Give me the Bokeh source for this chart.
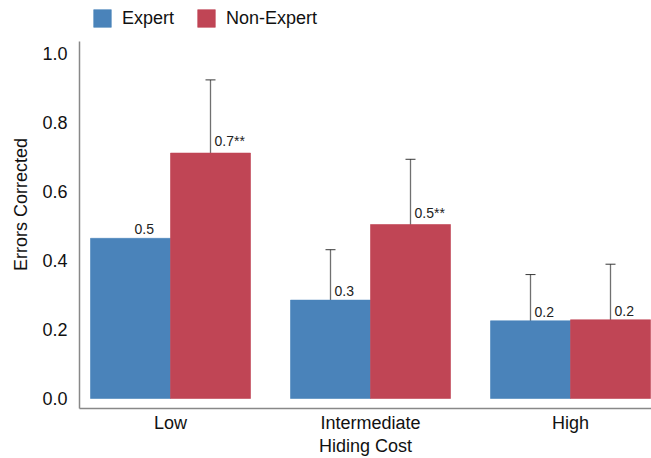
from bokeh.plotting import figure
from bokeh.models import ColumnDataSource, Range1d, FixedTicker, Whisker, Legend, LegendItem, LabelSet, PrintfTickFormatter
from bokeh.embed import file_html
from bokeh.resources import INLINE
from bokeh.core.properties import value

categories = ["Low", "Intermediate", "High"]
expert = [0.464, 0.285, 0.225]
expert_lo = [None, 0.140, 0.092]
expert_hi = [None, 0.431, 0.359]
expert_labels = ["0.5", "0.3", "0.2"]
nonexpert = [0.711, 0.504, 0.228]
nonexpert_lo = [0.499, 0.314, 0.069]
nonexpert_hi = [0.923, 0.693, 0.389]
nonexpert_labels = ["0.7**", "0.5**", "0.2"]
y_ticks = [0.0, 0.2, 0.4, 0.6, 0.8, 1.0]

BLUE = "#4A83BA"
RED = "#C04555"
FONT = "Liberation Sans"
bw = 0.4

idx = list(range(len(categories)))
ex = [i - bw / 2 for i in idx]
nx = [i + bw / 2 for i in idx]

p = figure(width=651, height=458, output_backend="svg", toolbar_location=None,
           x_range=Range1d(-0.455, 2.405), y_range=Range1d(-0.029, 1.153),
           min_border_left=79, min_border_right=0, min_border_top=0,
           min_border_bottom=49)
p.background_fill_color = "white"
p.outline_line_color = None
p.xgrid.visible = False
p.ygrid.visible = False

src_e = ColumnDataSource(dict(x=ex, top=expert, lab=expert_labels))
src_n = ColumnDataSource(dict(x=nx, top=nonexpert, lab=nonexpert_labels))
r1 = p.vbar(x="x", top="top", width=bw, bottom=0, source=src_e, fill_color=BLUE,
            line_color=BLUE, line_alpha=0.6)
r2 = p.vbar(x="x", top="top", width=bw, bottom=0, source=src_n, fill_color=RED,
            line_color=RED, line_alpha=0.6)

ew_x = [x for x, lo in zip(ex, expert_lo) if lo is not None]
ew_lo = [lo for lo in expert_lo if lo is not None]
ew_hi = [hi for hi in expert_hi if hi is not None]
we = ColumnDataSource(dict(x=ew_x + nx, lo=ew_lo + nonexpert_lo, hi=ew_hi + nonexpert_hi))
wh = Whisker(base="x", lower="lo", upper="hi", source=we, line_color="#333333",
             line_alpha=0.7, line_width=1.3)
wh.upper_head.size = 10
wh.lower_head.size = 10
wh.upper_head.line_color = "#222222"
wh.lower_head.line_color = "#222222"
wh.upper_head.line_alpha = 0.9
wh.lower_head.line_alpha = 0.9
p.add_layout(wh)

for src in (src_e, src_n):
    ls = LabelSet(x="x", y="top", text="lab", source=src, x_offset=4, y_offset=4,
                  text_font=value(FONT), text_font_size="14px", text_color="#222222",
                  text_align="left", text_baseline="bottom")
    p.add_layout(ls)

p.xaxis.ticker = FixedTicker(ticks=idx)
p.xaxis.major_label_overrides = {i: c for i, c in zip(idx, categories)}
p.xaxis.axis_label = "Hiding Cost"
p.yaxis.axis_label = "Errors Corrected"
p.yaxis.ticker = FixedTicker(ticks=y_ticks)
p.yaxis.bounds = (-0.029, 1.035)
p.yaxis.formatter = PrintfTickFormatter(format="%.1f")
for ax in (p.xaxis, p.yaxis):
    ax.major_tick_line_color = None
    ax.minor_tick_line_color = None
    ax.axis_line_color = "#888888"
    ax.axis_line_width = 1.5
    ax.major_label_text_font = FONT
    ax.major_label_text_font_size = "18px"
    ax.major_label_text_color = "#111111"
    ax.axis_label_text_font = FONT
    ax.axis_label_text_font_size = "18px"
    ax.axis_label_text_font_style = "normal"
    ax.axis_label_text_color = "#111111"
p.yaxis.major_label_standoff = 6
p.yaxis.axis_label_standoff = 8
p.xaxis.major_label_standoff = -2
p.xaxis.axis_label_standoff = 0

legend = Legend(items=[LegendItem(label="Expert", renderers=[r1]),
                       LegendItem(label="Non-Expert", renderers=[r2])],
                orientation="horizontal", location=(12, 379),
                glyph_width=22, glyph_height=22, label_standoff=9, spacing=21,
                label_text_font=FONT, label_text_font_size="18px",
                label_text_color="#111111",
                border_line_alpha=0, background_fill_alpha=0,
                padding=0, margin=0)
p.add_layout(legend)

open("out.html", "w").write(file_html(p, INLINE))
